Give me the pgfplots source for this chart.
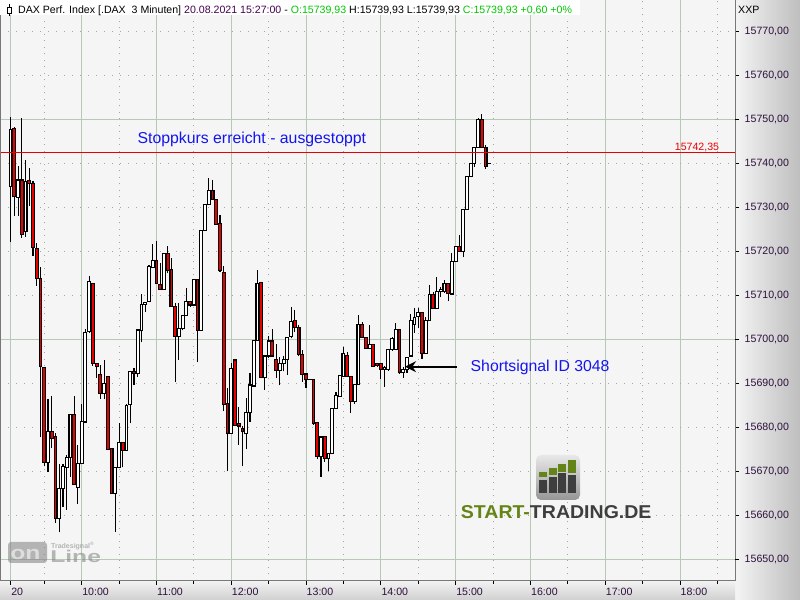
\documentclass[border=0pt]{standalone}
\usepackage{pgfplots}
\pgfplotsset{compat=1.18}
\usepackage{pgfplotstable}
\usetikzlibrary{arrows.meta}
\usepackage{fontspec}
\setmainfont{Liberation Sans}

\definecolor{bgcol}{RGB}{245,245,245}
\definecolor{gridgreen}{RGB}{182,200,182}
\definecolor{dotgray}{RGB}{165,165,165}
\definecolor{framegray}{RGB}{120,120,120}
\definecolor{labcol}{RGB}{45,15,60}
\definecolor{candlered}{RGB}{232,0,0}
\definecolor{stopblue}{RGB}{20,20,240}
\definecolor{hgreen}{RGB}{0,200,0}
\definecolor{datecol}{RGB}{70,0,80}
\definecolor{logogreen}{RGB}{100,132,24}
\definecolor{logogray}{RGB}{62,62,62}

% 3-minute candles, t = minutes after 09:00
\pgfplotstableread{
t   o        h        l        c
3   15734.7  15750.5  15722.0  15747.7
6   15748.0  15748.2  15728.0  15732.4
9   15732.3  15739.4  15728.0  15736.2
12  15736.2  15750.2  15723.0  15723.9
15  15724.5  15740.8  15723.3  15735.8
18  15736.0  15738.9  15730.2  15735.5
21  15735.3  15736.0  15719.0  15720.9
24  15720.7  15721.8  15712.2  15713.9
27  15713.9  15716.4  15677.9  15693.8
30  15693.6  15693.8  15671.1  15672.0
33  15672.0  15686.4  15669.9  15679.0
36  15679.0  15687.1  15675.2  15677.5
39  15677.9  15678.7  15658.2  15659.3
42  15659.3  15671.7  15656.1  15666.1
45  15666.0  15671.7  15662.0  15671.1
48  15670.9  15673.7  15661.3  15673.2
51  15673.2  15683.0  15668.8  15683.0
54  15683.0  15687.1  15667.0  15667.0
57  15666.3  15676.0  15662.6  15671.7
60  15671.7  15685.3  15671.7  15681.3
63  15681.2  15702.3  15681.2  15701.5
66  15701.7  15714.4  15701.5  15713.1
69  15712.6  15712.6  15694.0  15694.5
72  15694.5  15694.5  15691.1  15693.9
75  15692.0  15694.2  15686.4  15687.7
78  15687.6  15695.2  15686.4  15690.0
81  15691.6  15691.6  15675.0  15675.0
84  15675.2  15675.2  15665.0  15665.0
87  15665.0  15670.9  15656.3  15670.9
90  15670.9  15680.9  15670.9  15676.5
93  15676.5  15676.5  15670.9  15674.8
96  15674.8  15685.3  15674.8  15685.0
99  15685.2  15692.7  15680.9  15692.6
102 15692.7  15693.4  15689.6  15692.3
105 15692.3  15702.1  15691.5  15702.1
108 15702.0  15710.3  15699.3  15708.0
111 15707.9  15708.3  15706.3  15708.3
114 15708.6  15716.8  15708.6  15716.5
117 15716.4  15721.7  15716.2  15718.0
120 15718.0  15722.4  15712.6  15712.6
123 15712.4  15717.3  15711.3  15711.3
126 15711.3  15719.5  15711.3  15719.5
129 15719.4  15721.2  15715.0  15715.6
132 15715.8  15718.4  15707.4  15707.4
135 15707.4  15708.3  15690.4  15700.6
138 15700.6  15708.3  15695.3  15702.5
141 15702.5  15705.4  15702.0  15705.4
144 15705.4  15711.6  15705.4  15708.6
147 15708.6  15708.6  15707.3  15707.8
150 15707.8  15713.6  15707.8  15713.6
153 15713.6  15713.6  15694.8  15702.1
156 15702.1  15724.7  15702.1  15724.7
159 15724.8  15730.7  15724.8  15730.7
162 15730.7  15736.6  15730.7  15733.9
165 15733.9  15736.2  15731.8  15731.8
168 15731.8  15731.8  15726.1  15726.1
171 15726.4  15728.3  15715.4  15715.6
174 15715.2  15716.6  15683.6  15685.1
177 15685.5  15688.9  15670.0  15678.6
180 15678.6  15694.5  15678.6  15693.4
183 15695.3  15695.3  15680.5  15680.5
186 15680.8  15684.7  15676.0  15680.3
189 15679.8  15680.2  15671.1  15679.0
192 15678.5  15686.6  15675.0  15683.3
195 15683.3  15692.3  15681.3  15689.6
198 15689.4  15699.8  15689.2  15699.8
201 15699.8  15715.8  15699.8  15712.7
204 15712.9  15712.9  15691.1  15691.3
207 15691.3  15696.2  15688.5  15696.2
210 15696.2  15700.8  15695.7  15699.6
213 15699.6  15702.3  15696.0  15696.2
216 15695.5  15698.9  15691.1  15693.0
219 15693.0  15696.0  15689.5  15694.5
222 15694.5  15696.2  15692.7  15695.4
225 15695.4  15700.6  15691.9  15700.5
228 15700.6  15707.3  15700.2  15704.0
231 15704.2  15706.7  15701.7  15702.7
234 15702.7  15703.3  15696.2  15696.6
237 15696.6  15697.5  15690.4  15692.1
240 15692.1  15692.1  15689.0  15690.8
243 15690.8  15690.8  15690.8  15690.8
246 15690.8  15690.8  15680.5  15680.9
249 15681.1  15681.3  15672.7  15673.3
252 15673.3  15677.9  15668.8  15677.8
255 15677.9  15677.9  15672.2  15673.0
258 15673.0  15674.0  15670.0  15674.0
261 15674.0  15684.3  15674.0  15684.3
264 15684.3  15688.1  15684.3  15687.3
267 15687.1  15691.9  15687.0  15691.7
270 15691.6  15698.3  15691.6  15696.8
273 15696.4  15697.2  15691.5  15691.5
276 15691.5  15691.5  15683.2  15685.8
279 15685.8  15689.8  15685.3  15689.8
282 15689.8  15705.5  15689.8  15703.3
285 15703.3  15704.0  15700.3  15700.5
288 15700.5  15700.5  15698.0  15698.0
291 15698.0  15703.3  15698.0  15698.9
294 15698.9  15698.9  15693.9  15693.9
297 15694.4  15694.4  15693.8  15694.0
300 15694.4  15694.5  15691.0  15693.2
303 15693.2  15693.9  15689.2  15693.5
306 15693.2  15697.7  15692.8  15697.7
309 15697.7  15700.5  15697.4  15700.2
312 15697.7  15703.8  15697.6  15702.3
315 15702.3  15702.3  15692.2  15692.4
318 15692.4  15693.8  15691.2  15693.2
321 15693.2  15695.9  15692.4  15695.9
324 15696.2  15705.8  15696.2  15704.2
327 15703.4  15707.0  15701.5  15705.0
330 15705.2  15707.1  15702.5  15706.1
333 15706.1  15706.1  15695.6  15696.8
336 15696.8  15705.1  15696.8  15704.2
339 15704.2  15712.3  15704.2  15710.2
342 15710.2  15710.8  15706.8  15707.0
345 15707.0  15714.2  15707.0  15710.8
348 15710.8  15711.8  15709.6  15711.3
351 15710.8  15713.5  15710.6  15712.7
354 15712.7  15712.7  15708.6  15710.5
357 15710.3  15719.7  15710.3  15717.7
360 15717.7  15721.1  15717.7  15721.1
363 15721.1  15723.7  15719.9  15719.9
366 15719.9  15729.4  15718.6  15729.4
369 15729.5  15737.2  15729.5  15737.0
372 15737.0  15740.0  15736.8  15740.0
375 15740.0  15743.6  15739.1  15743.6
378 15743.6  15750.3  15743.6  15750.0
381 15750.0  15751.1  15743.6  15743.6
384 15743.6  15744.1  15738.6  15739.2
387 15739.93 15739.93 15739.93 15739.93
}\candles

\begin{document}
\begin{tikzpicture}[x=1bp, y=1bp, font=\fontsize{10.6bp}{12bp}\selectfont]
\useasboundingbox (0,-19) rectangle (800,581);
% label panes
\shade[left color={rgb,255:red,244;green,244;blue,244}, right color={rgb,255:red,190;green,190;blue,190}] (735,-19) rectangle (800,581);
\shade[top color={rgb,255:red,242;green,242;blue,242}, bottom color={rgb,255:red,208;green,208;blue,208}] (0,-19) rectangle (735,0);

\begin{axis}[
  at={(0,0)}, anchor=south west,
  scale only axis, width=735bp, height=581bp,
  xmin=-5.5, xmax=584.1,
  ymin=15645.07, ymax=15777.11,
  axis background/.style={fill=bgcol},
  axis x line=bottom, axis y line=right,
  axis line style={-, draw=framegray, line width=1bp},
  tick align=outside,
  major tick length=4bp, minor tick length=3bp,
  tick style={black, line width=0.8bp},
  xtick={3,60,120,180,240,300,360,420,480,540},
  xticklabels={20,10:00,11:00,12:00,13:00,14:00,15:00,16:00,17:00,18:00},
  minor xtick={30,90,150,210,270,330,390,450,510,570},
  ytick={15650,15660,...,15770},
  minor y tick num=4,
  scaled y ticks=false,
  xmajorgrids, xminorgrids, ymajorgrids,
  major x grid style={gridgreen, line width=1bp},
  minor x grid style={dotgray, line width=1bp, dash pattern=on 1bp off 5.5bp},
  major y grid style={dotgray, line width=1bp, dash pattern=on 1bp off 7bp},
  extra y ticks={15650,15700,15750},
  extra y tick labels={},
  extra y tick style={major grid style={gridgreen, solid, line width=1bp},
    major y grid style={gridgreen, solid, line width=1bp}},
  tick label style={font=\fontsize{10.6bp}{12bp}\selectfont, text=labcol},
  yticklabel style={anchor=west, inner sep=0pt, xshift=5.5bp,
    /pgf/number format/fixed, /pgf/number format/fixed zerofill,
    /pgf/number format/precision=2, /pgf/number format/use comma,
    /pgf/number format/1000 sep={}, /pgf/number format/assume math mode=true},
  xticklabel style={anchor=north west, inner sep=0pt, xshift=0.5bp, yshift=-3bp},
]
% wicks
\addplot[draw=none, mark=none, forget plot,
  error bars/.cd, y dir=plus, y explicit, error mark=none,
  error bar style={draw=black, solid, line width=1.1bp}]
  table[x=t, y=l, y error plus expr={\thisrow{h}-\thisrow{l}}] {\candles};
% body outlines
\addplot[draw=none, mark=none, forget plot,
  error bars/.cd, y dir=plus, y explicit, error mark=none,
  error bar style={draw=black, solid, line width=3.9bp}]
  table[x=t, y expr={min(\thisrow{o},\thisrow{c})-0.13},
    y error plus expr={abs(\thisrow{c}-\thisrow{o})+0.26}] {\candles};
% rising bodies
\addplot[draw=none, mark=none, forget plot,
  error bars/.cd, y dir=plus, y explicit, error mark=none,
  error bar style={draw=white, solid, line width=1.8bp}]
  table[x=t, y expr={min(\thisrow{o},\thisrow{c})+0.12},
    y error plus expr={(\thisrow{c}>=\thisrow{o}) ? max(\thisrow{c}-\thisrow{o}-0.24,0) : 0}] {\candles};
% falling bodies
\addplot[draw=none, mark=none, forget plot,
  error bars/.cd, y dir=plus, y explicit, error mark=none,
  error bar style={draw=candlered, solid, line width=1.8bp}]
  table[x=t, y expr={min(\thisrow{o},\thisrow{c})+0.12},
    y error plus expr={(\thisrow{c}<\thisrow{o}) ? max(\thisrow{o}-\thisrow{c}-0.24,0) : 0}] {\candles};
% stop level
\addplot[candlered, line width=1bp, forget plot] coordinates {(-5.5,15742.35) (584.1,15742.35)};
\end{axis}

% left frame
\draw[framegray, line width=1bp] (0.5,0) -- (0.5,581);

% header
\fill[white] (0,566) rectangle (580,581);
\draw[black, line width=0.8bp] (9.7,577) -- (9.7,564.5);
\filldraw[draw=black, fill=white, line width=0.8bp] (7.6,568) rectangle (11.8,574);
\node[anchor=base west, inner sep=0pt] at (18,567.7)
  {DAX Perf. Index [.DAX\ \ 3 Minuten] \textcolor{datecol}{20.08.2021 15:27:00} - \textcolor{hgreen}{O:15739,93} H:15739,93 L:15739,93 \textcolor{hgreen}{C:15739,93 +0,60 +0\%}};
\node[anchor=base west, inner sep=0pt] at (738,567.7) {XXP};

% annotations
\node[anchor=base east, inner sep=0pt, text=candlered] at (719.3,430.3) {15742,35};
\node[anchor=base west, inner sep=0pt, text=stopblue, font=\fontsize{15.8bp}{18bp}\selectfont] at (137.5,437.7) {Stoppkurs erreicht - ausgestoppt};
\node[anchor=base west, inner sep=0pt, text=stopblue, font=\fontsize{15.8bp}{18bp}\selectfont] at (470.5,209.3) {Shortsignal ID 3048};
\draw[black, line width=2.2bp, -{Stealth[length=11bp, width=11bp]}] (457,214.3) -- (405,214.3);

% START-TRADING.DE logo
\shade[rounded corners=5bp, top color={rgb,255:red,232;green,232;blue,232}, bottom color={rgb,255:red,150;green,150;blue,150}] (536,81) rectangle (580,126);
\fill[logogreen] (539.3,103.7) rectangle (547.3,109.3);
\fill[logogreen] (549.3,106) rectangle (556.7,112.7);
\fill[logogreen] (558.3,109.3) rectangle (566,117);
\fill[logogreen] (567.7,107.7) rectangle (576,121);
\fill[logogray] (539.3,87.7) rectangle (547.3,101);
\fill[logogray] (549.3,87.7) rectangle (556.7,103.7);
\fill[logogray] (558.3,87.7) rectangle (566,107.7);
\fill[logogray] (567.7,87.7) rectangle (576,106);
\node[anchor=base west, inner sep=0pt, font=\bfseries\fontsize{18.6bp}{20bp}\selectfont, xscale=1.05] at (460.7,62.7)
  {\textcolor{logogreen}{START-}\textcolor{logogray}{TRADING.DE}};

% Tradesignal online watermark
\begin{scope}[opacity=0.55]
\fill[gray, rounded corners=3bp] (8,18) rectangle (47,39);
\node[anchor=base west, inner sep=0pt, text=white, font=\bfseries\fontsize{19bp}{20bp}\selectfont, xscale=1.3] at (10,21) {on};
\node[anchor=base west, inner sep=0pt, text=gray, font=\bfseries\fontsize{17bp}{18bp}\selectfont, xscale=1.45] at (50,18.5) {Line};
\node[anchor=base west, inner sep=0pt, text=gray, font=\bfseries\fontsize{7bp}{8bp}\selectfont] at (51,32.5) {Tradesignal\textsuperscript{®}};
\end{scope}
\end{tikzpicture}
\end{document}
